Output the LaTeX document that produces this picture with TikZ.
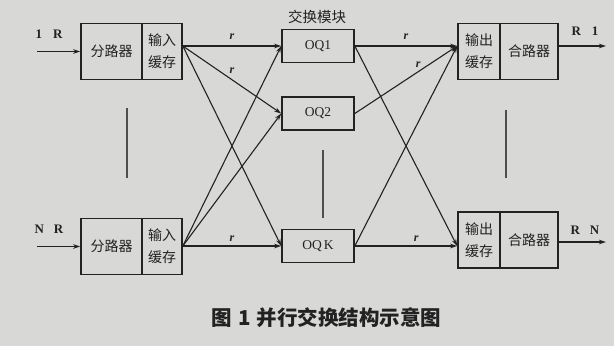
\documentclass[tikz,border=0pt]{standalone}
\usepackage{fontspec}
\setmainfont{Liberation Serif}
\newfontfamily\cjk{Noto Sans CJK SC}
\usetikzlibrary{arrows.meta}
\definecolor{bgc}{RGB}{216,216,214}
\definecolor{ink}{RGB}{34,34,34}
\begin{document}
\begin{tikzpicture}[x=1pt,y=-1pt,
  blk/.style={draw=ink, line width=1.6pt, inner sep=0pt, minimum height=56pt, text=ink},
  oqbox/.style={draw=ink, line width=1.6pt, inner sep=0pt, minimum width=72pt, minimum height=33pt, font=\fontsize{13.5}{15}\selectfont, text=ink},
  cn/.style={font=\cjk\fontsize{14}{22}\selectfont, align=center},
  conn/.style={draw=ink, line width=1.1pt, -{Stealth[length=7pt,width=4.5pt]}},
  rlab/.style={font=\bfseries\itshape\fontsize{12}{14}\selectfont, text=ink, inner sep=1pt},
  io/.style={font=\bfseries\fontsize{13}{15}\selectfont, text=ink, inner sep=0pt},
  vdots/.style={draw=ink!80, line width=1.2pt}
]
\fill[bgc] (0,0) rectangle (614,346);
\useasboundingbox (0,0) rectangle (614,346);

% left boxes
\node[blk, cn, minimum width=61pt] (sp1) at (111.5,51.5) {分路器};
\node[blk, cn, minimum width=40pt] (ib1) at (162,51.5) {输入\\缓存};
\node[blk, cn, minimum width=61pt] (spN) at (111.5,246.5) {分路器};
\node[blk, cn, minimum width=40pt] (ibN) at (162,246.5) {输入\\缓存};

% switch modules
\node[oqbox] (oq1) at (318,46) {OQ1};
\node[oqbox] (oq2) at (318,113.5) {OQ2};
\node[oqbox] (oqk) at (318,246) {OQ\,K};
\node[cn, font=\cjk\fontsize{14.5}{16}\selectfont, text=ink, inner sep=0pt] (ttl) at (317,17) {交换模块};

% right boxes
\node[blk, cn, minimum width=42pt] (ob1) at (479,51.5) {输出\\缓存};
\node[blk, cn, minimum width=58pt] (mg1) at (529,51.5) {合路器};
\node[blk, cn, minimum width=42pt] (obN) at (479,240) {输出\\缓存};
\node[blk, cn, minimum width=58pt] (mgN) at (529,240) {合路器};

% inputs / outputs
\coordinate (in1) at (37,51.5);
\coordinate (inN) at (37,246.5);
\coordinate (out1) at (606,46);
\coordinate (outN) at (606,242);
\draw[conn] (in1) -- (sp1.west);
\draw[conn] (inN) -- (spN.west);
\draw[conn] (mg1.east |- out1) -- (out1);
\draw[conn] (mgN.east |- outN) -- (outN);
\node[io] (l1) at (49,34) {1\hspace{11pt}R};
\node[io] (lN) at (49,229) {N\hspace{10pt}R};
\node[io] (r1) at (585,31) {R\hspace{11pt}1};
\node[io] (rN) at (585,230) {R\hspace{10pt}N};

% connection points
\coordinate (s1) at (oq1.west -| ib1.east);
\coordinate (sN) at (oqk.west -| ibN.east);
\coordinate (t1) at (oq1.east -| ob1.west);
\coordinate (tN) at (oqk.east -| obN.west);

% left fabric
\draw[conn] (s1) -- node[rlab, above=5pt] {r} (oq1.west);
\draw[conn] (s1) -- node[rlab, pos=0.5, above=5pt] {r} (oq2.west);
\draw[conn] (s1) -- (oqk.west);
\draw[conn] (sN) -- (oq1.west);
\draw[conn] (sN) -- (oq2.west);
\draw[conn] (sN) -- node[rlab, above=3pt] {r} (oqk.west);

% right fabric
\draw[conn] (oq1.east) -- node[rlab, above=5pt] {r} (t1);
\draw[conn] (oq2.east) -- node[rlab, pos=0.62, above=3pt] {r} (t1);
\draw[conn] (oqk.east) -- (t1);
\draw[conn] (oq1.east) -- (tN);
\draw[conn] (oqk.east) -- node[rlab, pos=0.6, above=3pt] {r} (tN);

% ellipsis bars
\coordinate (v1a) at (127,108); \coordinate (v1b) at (127,178);
\coordinate (v2a) at (323,150); \coordinate (v2b) at (323,218);
\coordinate (v3a) at (506,110); \coordinate (v3b) at (506,178);
\draw[vdots] (v1a) -- (v1b);
\draw[vdots] (v2a) -- (v2b);
\draw[vdots] (v3a) -- (v3b);

% caption
\node[font=\cjk\bfseries\fontsize{20.5}{24}\selectfont, text=ink, inner sep=0pt] (cap) at (326.5,318) {图\hspace{6pt}1\hspace{6pt}并行交换结构示意图};
\end{tikzpicture}
\end{document}
